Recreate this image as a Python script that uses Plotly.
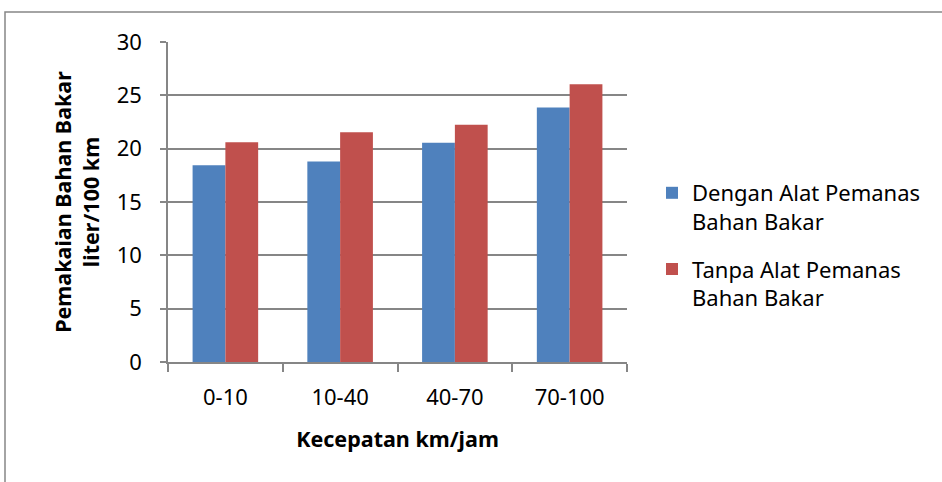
import plotly.graph_objects as go

categories = ["0-10", "10-40", "40-70", "70-100"]
dengan = [18.45, 18.8, 20.55, 23.85]
tanpa = [20.6, 21.55, 22.25, 26.05]
series_names = ["Dengan Alat Pemanas<br>Bahan Bakar", "Tanpa Alat Pemanas<br>Bahan Bakar"]
y_ticks = [0, 5, 10, 15, 20, 25, 30]

FONT = "Noto Sans"
fig = go.Figure()
fig.add_trace(go.Bar(x=categories, y=dengan, name=series_names[0], marker_color="#4F81BD",
                     marker_line_width=0, legendgroup="a"))
fig.add_trace(go.Bar(x=categories, y=tanpa, name=series_names[1], marker_color="#C0504D",
                     marker_line_width=0, legendgroup="b"))

fig.update_layout(
    width=942, height=482,
    margin=dict(l=168, r=942 - 168 - 459, t=42, b=482 - 42 - 320),
    paper_bgcolor="white", plot_bgcolor="white",
    barmode="group", bargap=0.4286, bargroupgap=0,
    font=dict(family=FONT, size=22, color="black"),
    legend=dict(x=(652 - 168) / 459, y=(362 - 172) / 320, xanchor="left", yanchor="top",
                font=dict(size=22), tracegroupgap=16, itemwidth=30, valign="top",
                bgcolor="rgba(0,0,0,0)"),
    xaxis=dict(
        type="category", showline=True, linecolor="#868686", linewidth=1.5,
        ticks="outside", tickson="boundaries", ticklen=8, tickcolor="#868686", tickwidth=1.5,
        showgrid=False, ticklabelstandoff=15,
        title=dict(text="<b>Kecepatan km/jam</b>", font=dict(size=21.5), standoff=22),
    ),
    yaxis=dict(
        range=[0, 30], tickvals=y_ticks, showline=True, linecolor="#868686", linewidth=1.5,
        ticks="outside", ticklen=6, tickcolor="#868686", tickwidth=1.5,
        showgrid=True, gridcolor="#868686", gridwidth=1.5, zeroline=False,
        ticklabelstandoff=14,
        title=dict(text="<b>Pemakaian Bahan Bakar<br>liter/100 km</b>", font=dict(size=21.5), standoff=11),
    ),
    shapes=[dict(type="rect", xref="paper", yref="paper",
                 x0=(5 - 168) / 459, x1=(960 - 168) / 459,
                 y0=(362 - 500) / 320, y1=(362 - 12) / 320,
                 line=dict(color="#868686", width=1.5), fillcolor="rgba(0,0,0,0)", layer="below")],
)

fig.write_html("out.html", config={"displayModeBar": False},
               post_script="document.body.style.margin='0px';")
